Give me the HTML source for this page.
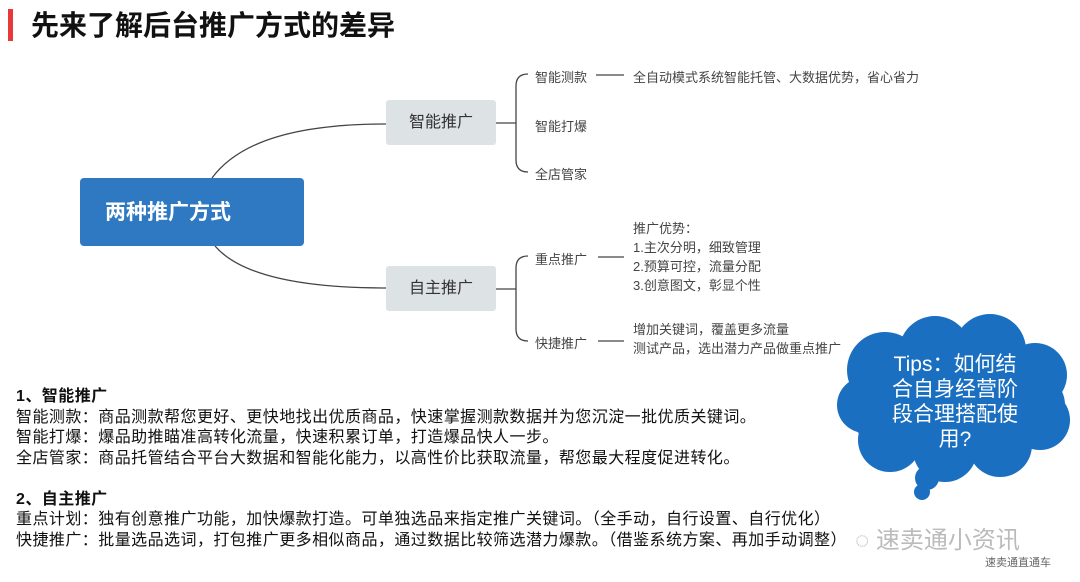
<!DOCTYPE html>
<html><head><meta charset="utf-8"><style>
body{margin:0;width:1080px;height:582px;background:#fff;position:relative;overflow:hidden;font-family:"Liberation Sans","Noto Sans CJK SC",sans-serif}
.a{position:absolute;white-space:nowrap}
.s{font-size:13px;color:#444}
.b{font-size:16px;color:#111;line-height:20.5px;letter-spacing:0.45px}
</style></head><body>
<div class="a" style="left:8px;top:9px;width:5px;height:32px;background:#e8393a"></div>
<div class="a" style="left:31px;top:9px;font-size:28px;font-weight:bold;color:#111;line-height:34px">先来了解后台推广方式的差异</div>
<svg class="a" style="left:0;top:0" width="1080" height="582">
<g fill="none" stroke="#444" stroke-width="1.3">
<path d="M212 178 C 240 140, 300 124, 386 124"/>
<path d="M215 246 C 240 275, 300 288, 386 288"/>
<path d="M496 123 H516 M528 74 Q516 74 516 86 V160 Q516 172 528 172"/>
<path d="M496 289 H516 M528 256 Q516 256 516 268 V329 Q516 341 528 341"/>
<path d="M596 75 H624 M598 257 H624 M598 341 H624"/>
</g>
<g fill="#1a6fc1">
<ellipse cx="955" cy="405" rx="110" ry="58"/>
<circle cx="885" cy="370" r="38"/><circle cx="935" cy="352" r="36"/><circle cx="990" cy="350" r="36"/><circle cx="1035" cy="375" r="32"/>
<circle cx="1040" cy="420" r="30"/><circle cx="1000" cy="445" r="32"/><circle cx="945" cy="450" r="32"/><circle cx="890" cy="440" r="32"/><circle cx="865" cy="405" r="28"/>
<circle cx="927" cy="478" r="12"/><circle cx="922" cy="492" r="8"/>
</g>
</svg>
<div class="a" style="left:80px;top:178px;width:224px;height:68px;background:#2f79c3;border-radius:4px"></div>
<div class="a" style="left:105px;top:199px;font-size:21px;font-weight:bold;color:#fff;line-height:28px">两种推广方式</div>
<div class="a" style="left:386px;top:100px;width:110px;height:45px;background:#dde2e5;border-radius:3px;text-align:center;line-height:45px;font-size:16px;color:#333">智能推广</div>
<div class="a" style="left:386px;top:266px;width:110px;height:45px;background:#dde2e5;border-radius:3px;text-align:center;line-height:45px;font-size:16px;color:#333">自主推广</div>
<div class="a s" style="left:535px;top:67px">智能测款</div>
<div class="a s" style="left:535px;top:116px">智能打爆</div>
<div class="a s" style="left:535px;top:164px">全店管家</div>
<div class="a s" style="left:633px;top:67px">全自动模式系统智能托管、大数据优势，省心省力</div>
<div class="a s" style="left:535px;top:249px">重点推广</div>
<div class="a s" style="left:535px;top:333px">快捷推广</div>
<div class="a s" style="left:633px;top:219px;line-height:19px">推广优势：<br>1.主次分明，细致管理<br>2.预算可控，流量分配<br>3.创意图文，彰显个性</div>
<div class="a s" style="left:633px;top:320px;line-height:19px">增加关键词，覆盖更多流量<br>测试产品，选出潜力产品做重点推广</div>
<div class="a b" style="left:16px;top:387px"><b>1、智能推广</b><br>智能测款：商品测款帮您更好、更快地找出优质商品，快速掌握测款数据并为您沉淀一批优质关键词。<br>智能打爆：爆品助推瞄准高转化流量，快速积累订单，打造爆品快人一步。<br>全店管家：商品托管结合平台大数据和智能化能力，以高性价比获取流量，帮您最大程度促进转化。<br><br><b>2、自主推广</b><br>重点计划：独有创意推广功能，加快爆款打造。可单独选品来指定推广关键词。（全手动，自行设置、自行优化）<br>快捷推广：批量选品选词，打包推广更多相似商品，通过数据比较筛选潜力爆款。（借鉴系统方案、再加手动调整）</div>
<div class="a" style="left:870px;top:352px;width:170px;text-align:center;font-size:21px;color:#fff;line-height:25px">Tips：如何结<br>合自身经营阶<br>段合理搭配使<br>用?</div>
<div class="a" style="left:855px;top:520px;font-size:24px;color:#bbb">◌ 速卖通小资讯</div>
<div class="a" style="left:985px;top:554px;font-size:11px;color:#666">速卖通直通车</div>
</body></html>
